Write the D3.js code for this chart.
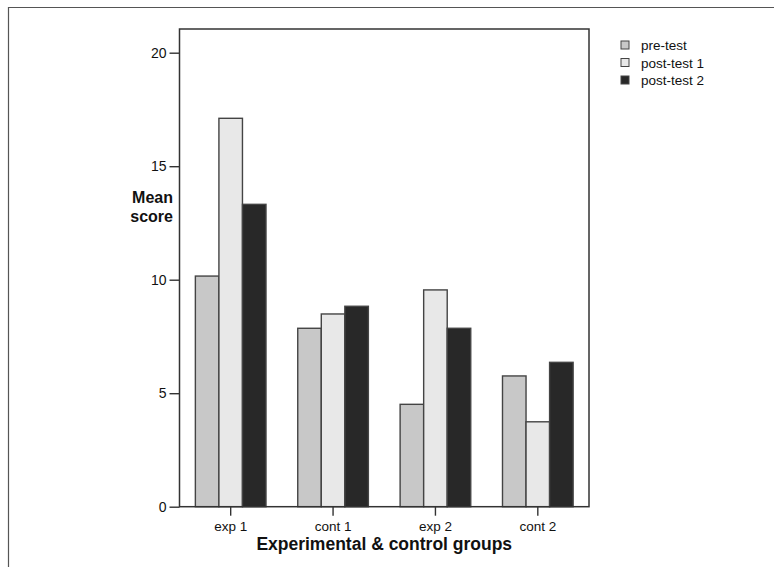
<!DOCTYPE html>
<html><head><meta charset="utf-8">
<script src="https://cdn.jsdelivr.net/npm/d3@7"></script>
<style>body{margin:0;background:#fff;} svg{display:block;font-family:"Liberation Sans",Arial,sans-serif;}</style>
</head><body>
<script>
const groups = ["exp 1", "cont 1", "exp 2", "cont 2"];
const seriesNames = ["pre-test", "post-test 1", "post-test 2"];
const preTest = [10.16, 7.86, 4.51, 5.76];
const postTest1 = [17.11, 8.49, 9.55, 3.74];
const postTest2 = [13.32, 8.83, 7.86, 6.36];
const yTicks = [0, 5, 10, 15, 20];
const colors = ["#c8c8c8", "#e8e8e8", "#282828"];

const W = 774, H = 567;
const svg = d3.select("body").append("svg").attr("width", W).attr("height", H);

// outer frame (top and left visible)
svg.append("line").attr("x1", 8).attr("x2", W).attr("y1", 7.5).attr("y2", 7.5).attr("stroke", "#555").attr("stroke-width", 1.2);
svg.append("line").attr("x1", 8.5).attr("x2", 8.5).attr("y1", 7).attr("y2", H).attr("stroke", "#555").attr("stroke-width", 1.2);

const L = 179.5, R = 589, T = 29, B = 506.7;
const x = d3.scaleBand().domain(groups).range([L, R]).paddingInner(0.31).paddingOuter(0.155);
const xs = d3.scaleBand().domain(seriesNames).range([0, x.bandwidth()]);
const y = d3.scaleLinear().domain([0, 20]).range([B, B - 4 * 113.5]);

const series = [preTest, postTest1, postTest2];
const rows = [];
groups.forEach((g, i) => seriesNames.forEach((s, j) => rows.push({g, s, j, v: series[j][i]})));

svg.append("g").selectAll("rect").data(rows).join("rect")
  .attr("x", d => x(d.g) + xs(d.s))
  .attr("width", xs.bandwidth())
  .attr("y", d => y(d.v))
  .attr("height", d => B - y(d.v))
  .attr("fill", d => colors[d.j])
  .attr("stroke", "#444").attr("stroke-width", 1.4);

// plot frame
svg.append("rect").attr("x", L).attr("y", T).attr("width", R - L).attr("height", B - T)
  .attr("fill", "none").attr("stroke", "#333").attr("stroke-width", 1.5);

// y axis
const yAxis = svg.append("g").attr("transform", `translate(${L},0)`)
  .call(d3.axisLeft(y).tickValues(yTicks).tickSize(10).tickPadding(3).tickFormat(d3.format("d")));
yAxis.select(".domain").remove();
yAxis.selectAll("line").attr("stroke", "#333").attr("stroke-width", 1.4);
yAxis.selectAll("text").attr("font-size", 14).attr("fill", "#111").attr("font-family", "Liberation Sans, Arial, sans-serif");

// x axis
const xAxis = svg.append("g").attr("transform", `translate(0,${B})`)
  .call(d3.axisBottom(x).tickSize(9).tickPadding(6));
xAxis.select(".domain").remove();
xAxis.selectAll("line").attr("stroke", "#333").attr("stroke-width", 1.4);
xAxis.selectAll("text").attr("font-size", 13.5).attr("fill", "#111").attr("font-family", "Liberation Sans, Arial, sans-serif");

// axis titles
svg.append("text").attr("x", 173).attr("y", 202.5).attr("text-anchor", "end")
  .attr("font-size", 16).attr("font-weight", "bold").attr("fill", "#111").text("Mean");
svg.append("text").attr("x", 173).attr("y", 221.5).attr("text-anchor", "end")
  .attr("font-size", 16).attr("font-weight", "bold").attr("fill", "#111").text("score");
svg.append("text").attr("x", (L + R) / 2).attr("y", 550).attr("text-anchor", "middle")
  .attr("font-size", 17.5).attr("font-weight", "bold").attr("fill", "#111").text("Experimental & control groups");

// legend
const lg = svg.append("g").selectAll("g").data(seriesNames).join("g")
  .attr("transform", (d, i) => `translate(621,${45 + i * 17.5})`);
lg.append("rect").attr("x", 0).attr("y", -4).attr("width", 8).attr("height", 8)
  .attr("fill", (d, i) => colors[i]).attr("stroke", "#444").attr("stroke-width", 1);
lg.append("text").attr("x", 20).attr("y", 5).attr("font-size", 13.5).attr("fill", "#111").text(d => d);
</script>
</body></html>
